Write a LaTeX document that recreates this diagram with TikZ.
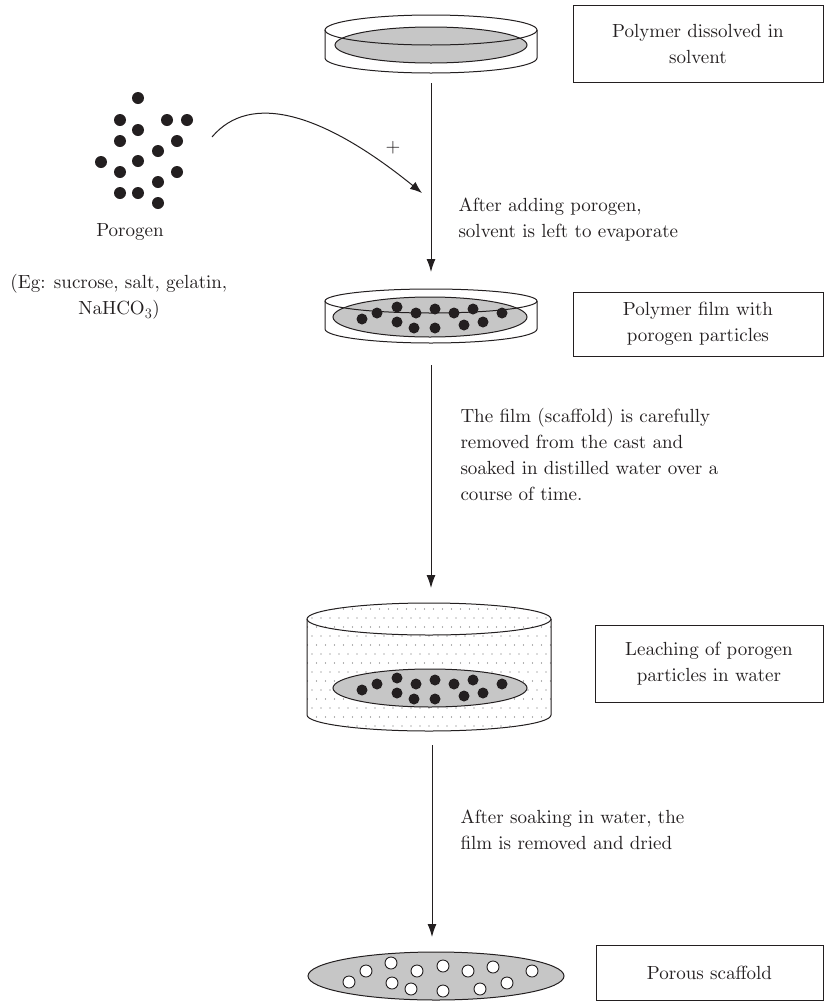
\documentclass[tikz,border=0pt]{standalone}
\usetikzlibrary{arrows.meta}
\definecolor{ink}{HTML}{231F20}
\definecolor{film}{HTML}{C6C6C6}
\font\stepfont=cmr10 at 19pt
\begin{document}
\begin{tikzpicture}[x=1pt,y=1pt,line width=1pt,color=ink,
  every node/.style={font=\fontsize{19}{26}\selectfont\stepfont,text=ink},
  box/.style={draw,inner sep=0pt,align=center},
  note/.style={align=left,anchor=west,inner sep=0pt},
  flow/.style={-{Latex[length=13pt,width=9pt]}},
  pore/.style={draw,fill=white,line width=0.9pt}]
  \useasboundingbox (0,0) rectangle (835,-1002);
  % step boxes
  \node[box,minimum width=250pt,minimum height=77pt] (dissolved) at (698,-43.5) {Polymer dissolved in\\solvent};
  \node[box,minimum width=250pt,minimum height=64pt] (filmbox) at (698,-324) {Polymer film with\\porogen particles};
  \node[box,minimum width=228pt,minimum height=77pt] (leaching) at (709,-663.5) {Leaching of porogen\\particles in water};
  \node[box,minimum width=227pt,minimum height=55pt] (porous) at (709.5,-972.5) {Porous scaffold};
  % cast with polymer solution
  \filldraw[fill=film] (431,-45) ellipse[x radius=96,y radius=18];
  \draw (431,-30) ellipse[x radius=106,y radius=15];
  \draw (325,-30) -- (325,-58) arc[start angle=180,end angle=360,x radius=106,y radius=15] -- (537,-30);
  % porogen particles
  \foreach \p in {(138,-98),(120,-120),(167,-120),(187,-120),(138,-130),(120,-141),(177,-141),(158,-151),
                  (101,-162),(138,-161),(120,-172),(177,-172),(158,-182),(120,-193),(138,-193),(158,-203)}
    \fill \p circle (6);
  \node (porogen) at (130,-232) {Porogen};
  \node[align=center,inner sep=0pt] (examples) at (119,-297) {(Eg: sucrose, salt, gelatin,\\NaHCO$_3$)};
  % cast with film and particles
  \filldraw[fill=film] (430,-317) ellipse[x radius=97,y radius=20];
  \draw (431,-301) ellipse[x radius=106,y radius=12];
  \draw (325,-301) -- (325,-329) arc[start angle=180,end angle=360,x radius=106,y radius=14] -- (537,-301);
  \foreach \dx/\dy in {-68/-2,-53/4,-33/10,-14/4,5/8,24/4,43/8,72/4,-33/-5,-16/-11,5/-11,34/-8,53/-5}
    \fill (430+\dx,-317+\dy) circle (5.5);
  % water bath
  \fill[white] (307,-619) -- (307,-715) arc[start angle=180,end angle=360,x radius=122,y radius=16]
    -- (551,-619) arc[start angle=0,end angle=180,x radius=122,y radius=16] -- cycle;
  \begin{scope}
    \clip (307,-619) -- (307,-715) arc[start angle=180,end angle=360,x radius=122,y radius=16]
      -- (551,-619) arc[start angle=0,end angle=180,x radius=122,y radius=16] -- cycle;
    \foreach \j in {0,...,15}
      \foreach \i in {0,...,27}
        \fill[black!60] ({303+\i*9+mod(\j,2)*4.5},{-600-\j*9}) circle (0.7);
  \end{scope}
  \draw (429,-619) ellipse[x radius=122,y radius=16];
  \draw (307,-619) -- (307,-715) arc[start angle=180,end angle=360,x radius=122,y radius=16] -- (551,-619);
  \filldraw[fill=film] (430,-688) ellipse[x radius=97,y radius=19];
  \foreach \dx/\dy in {-68/-2,-53/4,-33/10,-14/4,5/8,24/4,43/8,72/4,-33/-5,-16/-11,5/-11,34/-8,53/-5}
    \fill (430+\dx,-688+\dy) circle (5.5);
  % porous scaffold
  \filldraw[fill=film] (436,-976) ellipse[x radius=128,y radius=24];
  \foreach \p in {(349,-982),(366,-971),(391,-963),(392,-983),(411,-989),(417,-971),(443,-966),
                  (443,-991),(468,-971),(480,-989),(493,-967),(507,-983),(532,-971)}
    \draw[pore] \p circle (6);
  % connectors
  \coordinate (castout) at (431,-83);
  \coordinate (filmin) at (431,-272);
  \coordinate (filmout) at (431,-365);
  \coordinate (bathin) at (431,-588);
  \coordinate (bathout) at (432,-745);
  \coordinate (scaffin) at (432,-937);
  \coordinate (grainsout) at (212,-137);
  \coordinate (mixin) at (422,-193);
  \draw[flow] (castout) -- (filmin);
  \draw[flow] (filmout) -- (bathin);
  \draw[flow] (bathout) -- (scaffin);
  \draw[-{Latex[length=12pt,width=9pt]}] (grainsout) .. controls (250,-92) and (322,-112) .. (mixin);
  \node (plus) at (393,-148) {+};
  % process notes
  \node[note] (evaporate) at (458,-220) {After adding porogen,\\solvent is left to evaporate};
  \node[note] (soak) at (460,-454) {The film (scaffold) is carefully\\removed from the cast and\\soaked in distilled water over a\\course of time.};
  \node[note] (dry) at (460,-830) {After soaking in water, the\\film is removed and dried};
\end{tikzpicture}
\end{document}
